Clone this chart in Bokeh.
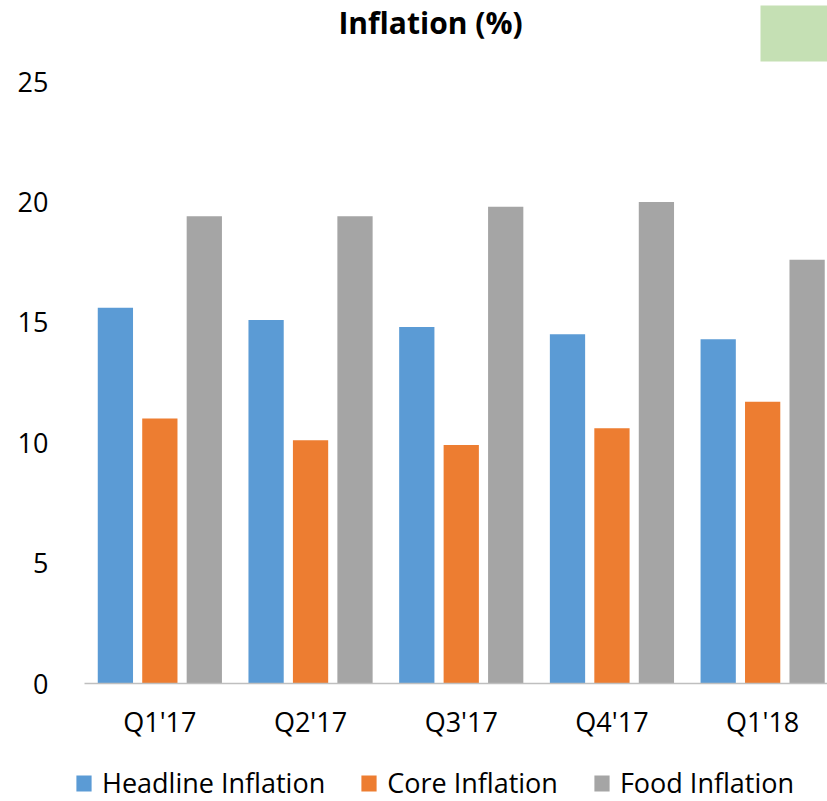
from bokeh.plotting import figure
from bokeh.models import (Range1d, FixedTicker, ColumnDataSource, Legend, LegendItem,
                          Label, BoxAnnotation)
from bokeh.core.properties import value
from bokeh.transform import dodge
from bokeh.embed import file_html
from bokeh.resources import INLINE

# ---- data ----
quarters = ["Q1'17", "Q2'17", "Q3'17", "Q4'17", "Q1'18"]
headline = [15.6, 15.1, 14.8, 14.5, 14.3]
core = [11.0, 10.1, 9.9, 10.6, 11.7]
food = [19.4, 19.4, 19.8, 20.0, 17.6]
y_ticks = [0, 5, 10, 15, 20, 25]
series_names = ["Headline Inflation", "Core Inflation", "Food Inflation"]
colors = ["#5B9BD5", "#ED7D31", "#A5A5A5"]
title_text = "Inflation (%)"

# ---- layout constants (pixels) ----
FONT = "Open Sans"
W, H = 827, 801
FRAME_LEFT = 70          # frame spans x 70..827, y 0..801
Y0_PX, Y25_PX = 683, 81  # pixel rows of value 0 and 25
CAT_LEFT_PX, CAT_W_PX = 84, 150.7

px_per_unit = (Y0_PX - Y25_PX) / 25.0
y_top = 25 + Y25_PX / px_per_unit
y_bot = -(H - Y0_PX) / px_per_unit
x_start = -(CAT_LEFT_PX - FRAME_LEFT) / CAT_W_PX
x_end = (W - CAT_LEFT_PX) / CAT_W_PX

n = len(quarters)
centers = [i + 0.5 for i in range(n)]
src = ColumnDataSource(dict(x=centers, q=quarters, headline=headline, core=core, food=food))

p = figure(width=W, height=H, output_backend="svg", toolbar_location=None,
           x_range=Range1d(x_start, x_end), y_range=Range1d(y_bot, y_top),
           min_border_left=FRAME_LEFT, min_border_right=0,
           min_border_top=0, min_border_bottom=0, x_axis_location=None)
p.outline_line_color = None
p.xgrid.visible = False
p.ygrid.visible = False
p.background_fill_color = "white"
p.border_fill_color = "white"

bar_w = 0.234
offs = [-0.295, 0.0, 0.295]
fields = ["headline", "core", "food"]
renderers = []
for f, o, c in zip(fields, offs, colors):
    r = p.vbar(x=dodge("x", o), top=f, width=bar_w, bottom=0, source=src,
               fill_color=c, line_color=None)
    renderers.append(r)

# category axis line at value 0, spanning the categories
p.segment(x0=[0], x1=[n], y0=[0], y1=[0], line_color="#BFBFBF", line_width=1.5)

# category labels
p.text(x="x", y=0, text="q", source=src, y_offset=38,
       text_font=value(FONT), text_font_size="27px", text_align="center",
       text_baseline="alphabetic", text_color="black")

# y axis
p.yaxis.ticker = FixedTicker(ticks=y_ticks)
p.yaxis.axis_line_color = None
p.yaxis.major_tick_line_color = None
p.yaxis.minor_tick_line_color = None
p.yaxis.major_label_standoff = 16
p.yaxis.major_label_text_font = FONT
p.yaxis.major_label_text_font_size = "27px"
p.yaxis.major_label_text_color = "black"

# title
p.add_layout(Label(x=430 - FRAME_LEFT, y=H - 22, x_units="screen", y_units="screen",
                   text=title_text, text_font=FONT, text_font_style="bold",
                   text_font_size="30px", text_align="center", text_baseline="middle",
                   text_color="black"))

# green box top-right
p.add_layout(BoxAnnotation(left=760 - FRAME_LEFT, right=W - FRAME_LEFT, top=H - 5, bottom=H - 61,
                           left_units="screen", right_units="screen",
                           top_units="screen", bottom_units="screen",
                           fill_color="#C5E0B4", fill_alpha=1.0, line_color=None))

legend = Legend(items=[LegendItem(label=nm, renderers=[r]) for nm, r in zip(series_names, renderers)],
                orientation="horizontal", location=(74 - FRAME_LEFT, 0),
                glyph_width=19, glyph_height=20, label_standoff=9, spacing=34,
                padding=0, margin=0, border_line_color=None, background_fill_alpha=0,
                label_text_font=FONT, label_text_font_size="27px", label_text_color="black")
p.add_layout(legend)

open("out.html", "w").write(file_html(p, INLINE))
